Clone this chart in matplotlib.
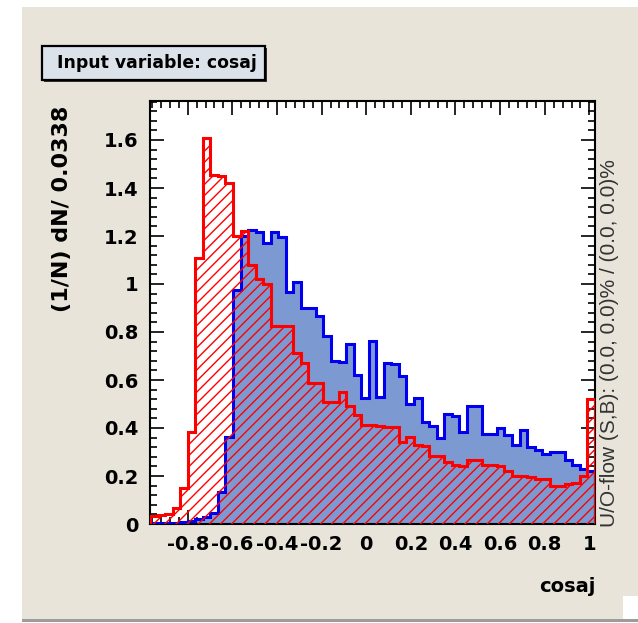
import numpy as np
import matplotlib.pyplot as plt
from matplotlib.patches import Rectangle
from matplotlib.ticker import MultipleLocator

plt.rcParams['font.family'] = ['DejaVu Sans']
plt.rcParams['hatch.linewidth'] = 1.0

# binning: 59 bins of width 0.0338
x_min = -0.969
bin_width = 0.0338
n_bins = 59

# signal (blue, filled)
signal = [0.003, 0.003, 0.003, 0.005, 0.008, 0.012, 0.02, 0.03, 0.045, 0.135,
          0.364, 0.975, 1.2, 1.225, 1.218, 1.169, 1.218, 1.197, 0.966, 1.008,
          0.902, 0.902, 0.867, 0.783, 0.678, 0.675, 0.748, 0.622, 0.523, 0.762,
          0.53, 0.671, 0.668, 0.618, 0.5, 0.523, 0.425, 0.41, 0.36, 0.46,
          0.45, 0.385, 0.49, 0.49, 0.375, 0.375, 0.40, 0.37, 0.33, 0.39,
          0.32, 0.31, 0.29, 0.30, 0.30, 0.265, 0.245, 0.23, 0.22]

# background (red, hatched)
background = [0.035, 0.038, 0.04, 0.065, 0.15, 0.385, 1.11, 1.607, 1.455, 1.45,
              1.42, 1.2, 1.22, 1.08, 1.02, 1.0, 0.825, 0.825, 0.825, 0.713,
              0.67, 0.587, 0.587, 0.51, 0.51, 0.552, 0.49, 0.453, 0.411, 0.411,
              0.41, 0.405, 0.405, 0.34, 0.362, 0.33, 0.327, 0.285, 0.285, 0.257,
              0.245, 0.243, 0.265, 0.265, 0.245, 0.245, 0.24, 0.222, 0.2, 0.2,
              0.195, 0.187, 0.187, 0.16, 0.16, 0.165, 0.17, 0.2, 0.52]

edges = x_min + bin_width * np.arange(n_bins + 1)

fig = plt.figure(figsize=(6.38, 6.23), dpi=100)
fig.patch.set_facecolor('white')

W, H = 638.0, 623.0
def fbox(x0, y0, x1, y1, **kw):
    # rectangle given in pixel coords (origin top-left)
    r = Rectangle((x0 / W, 1 - y1 / H), (x1 - x0) / W, (y1 - y0) / H,
                  transform=fig.transFigure, **kw)
    fig.patches.append(r)
    return r

# canvas panel
fbox(22, 7, 638, 619, facecolor='#e8e4d9', edgecolor='none', zorder=-3)
fbox(22, 619, 638, 622, facecolor='#9c9c9c', edgecolor='none', zorder=-3)
fbox(623, 596, 638, 619, facecolor='white', edgecolor='none', zorder=-2)

ax = fig.add_axes([150 / W, 1 - 524 / H, 445 / W, 423 / H])
ax.set_zorder(1)
ax.set_facecolor('white')

ax.stairs(signal, edges, fill=True, facecolor='#7d99d1', edgecolor='none', zorder=2)
ax.stairs(signal, edges, color='#0000ee', linewidth=2.2, zorder=3)
ax.stairs(background, edges, fill=True, facecolor='none', edgecolor='red',
          hatch='///', linewidth=0, zorder=4)
ax.stairs(background, edges, color='red', linewidth=2.2, zorder=5)

ax.set_xlim(edges[0], edges[-1])
ax.set_ylim(0, 1.7625)

ax.xaxis.set_minor_locator(MultipleLocator(0.04))
ax.yaxis.set_minor_locator(MultipleLocator(0.04))
ax.tick_params(which='both', direction='in', top=True, right=True, width=1.2)
ax.tick_params(which='major', length=10, labelsize=14, pad=8)
ax.tick_params(which='minor', length=5)
for sp in ax.spines.values():
    sp.set_linewidth(1.5)

ax.set_xticks([-0.8, -0.6, -0.4, -0.2, 0, 0.2, 0.4, 0.6, 0.8, 1.0])
ax.set_xticklabels(['-0.8', '-0.6', '-0.4', '-0.2', '0', '0.2', '0.4', '0.6', '0.8', '1'],
                   fontweight='bold')
ax.set_yticks([0, 0.2, 0.4, 0.6, 0.8, 1.0, 1.2, 1.4, 1.6])
ax.set_yticklabels(['0', '0.2', '0.4', '0.6', '0.8', '1', '1.2', '1.4', '1.6'],
                   fontweight='bold')

ax.set_xlabel('cosaj', fontsize=14, fontweight='bold', loc='right')
ax.xaxis.set_label_coords(1.0, -0.125)
ax.set_ylabel('(1/N) dN/ 0.0338', fontsize=16, fontweight='bold', loc='top')
ax.yaxis.set_label_coords(-0.176, 0.99)

# under/overflow note on the right
fig.text(619 / W, 1 - 527 / H, 'U/O-flow (S,B): (0.0, 0.0)% / (0.0, 0.0)%',
         rotation=90, rotation_mode='anchor', ha='left', va='bottom',
         fontsize=15, color='#333333', family='Liberation Sans')

# title box
fbox(44, 48, 267, 82, facecolor='#333333', edgecolor='none', zorder=2)
fbox(42, 46, 265, 80, facecolor='#dce2ea', edgecolor='black', linewidth=1.6, zorder=3)
fig.text(57 / W, 1 - 63 / H, 'Input variable: cosaj', fontsize=12.4, fontweight='bold',
         ha='left', va='center', zorder=4)

fig.savefig('out.png', dpi=100)
